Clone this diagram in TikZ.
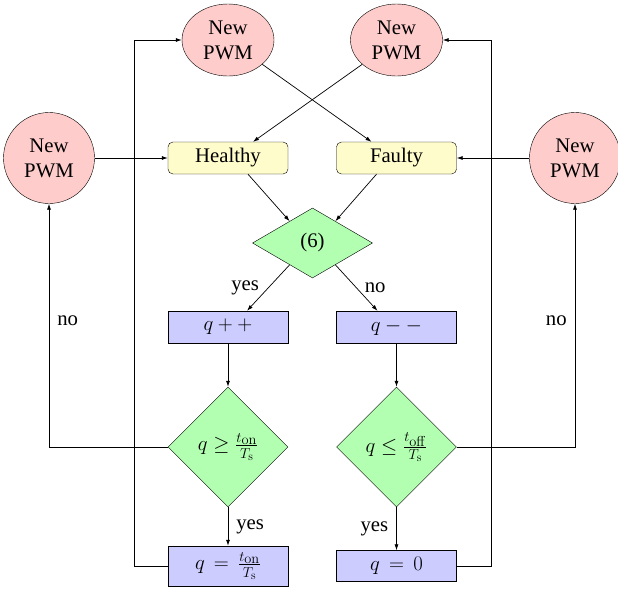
\documentclass[tikz,border=0pt]{standalone}
\usepackage[no-math]{fontspec}
\setmainfont{Liberation Serif}
\usetikzlibrary{shapes.geometric,arrows.meta,calc}
\newcommand{\myfrac}[2]{\frac{t_{\scriptstyle\mathrm{#1}}}{T_{\mathrm{#2}}}}
\begin{document}
\begin{tikzpicture}[x=1pt,y=-1pt,
  every node/.style={font=\fontsize{20.74}{25}\selectfont},
  pwmE/.style={ellipse,draw,fill=red!20,align=center,inner sep=0pt,minimum width=92pt,minimum height=72pt},
  pwmC/.style={circle,draw,fill=red!20,align=center,inner sep=0pt,minimum size=91pt},
  ybox/.style={rectangle,draw,fill=yellow!20,rounded corners=5pt,minimum width=120pt,minimum height=32pt,inner sep=0pt},
  bbox/.style={rectangle,draw,fill=blue!20,minimum width=120pt,minimum height=32pt,inner sep=0pt},
  dia/.style={diamond,draw,fill=green!30,inner sep=0pt,minimum width=120pt},
  arr/.style={draw,line width=0.7pt,-{Latex[length=6pt,width=4pt]}},
  lbl/.style={inner sep=0pt}]
\useasboundingbox (0,0) rectangle (618,592);

\node[pwmE] (tl) at (228,40) {New\\PWM};
\node[pwmE] (tr) at (396.5,40) {New\\PWM};
\node[pwmC] (lc) at (49,158) {New\\PWM};
\node[pwmC] (rc) at (575,158) {New\\PWM};
\node[ybox] (healthy) at (228,158) {Healthy};
\node[ybox] (faulty) at (396.5,158) {Faulty};
\node[dia,minimum height=70pt] (d6) at (312.5,243) {(6)};
\node[bbox] (qpp) at (228,327) {$q++$};
\node[bbox] (qmm) at (396.5,327) {$q--$};
\node[dia,minimum height=120pt] (dl) at (228,447) {$q\geq\myfrac{on}{s}$};
\node[dia,minimum height=120pt] (dr) at (396.5,447) {$q\leq\myfrac{off}{s}$};
\node[bbox,minimum height=40pt] (qe) at (228,566) {$q\,=\,\myfrac{on}{s}$};
\node[bbox,minimum height=31pt] (q0) at (396.5,566) {$q\,=\,0$};

\coordinate (lx) at (134,0);
\coordinate (rx) at (491,0);

\draw[arr] (tl) -- ([xshift=-25pt]faulty.north);
\draw[arr] (tr) -- ([xshift=25pt]healthy.north);
\draw[arr] (lc) -- (healthy);
\draw[arr] (rc) -- (faulty);
\draw[arr] ([xshift=20pt]healthy.south) -- ($(d6.north)!0.38!(d6.west)$);
\draw[arr] ([xshift=-20pt]faulty.south) -- ($(d6.north)!0.38!(d6.east)$);
\draw[arr] ($(d6.south)!0.38!(d6.west)$) -- node[lbl,left=9pt]{yes} ([xshift=19pt]qpp.north);
\draw[arr] ($(d6.south)!0.38!(d6.east)$) -- node[lbl,right=8pt]{no} ([xshift=-19pt]qmm.north);
\draw[arr] (qpp) -- (dl);
\draw[arr] (qmm) -- (dr);
\draw[arr] (dl) -- node[lbl,right=8pt]{yes} (qe);
\draw[arr] (dr) -- node[lbl,left=8pt]{yes} (q0);
\draw[arr] (dl.west) -| node[lbl,pos=0.76,right=8pt]{no} (lc.south);
\draw[arr] (dr.east) -| node[lbl,pos=0.76,left=8pt]{no} (rc.south);
\draw[arr] (qe.west) -- (qe.west -| lx) |- (tl.west);
\draw[arr] (q0.east) -- (q0.east -| rx) |- (tr.east);
\end{tikzpicture}
\end{document}
